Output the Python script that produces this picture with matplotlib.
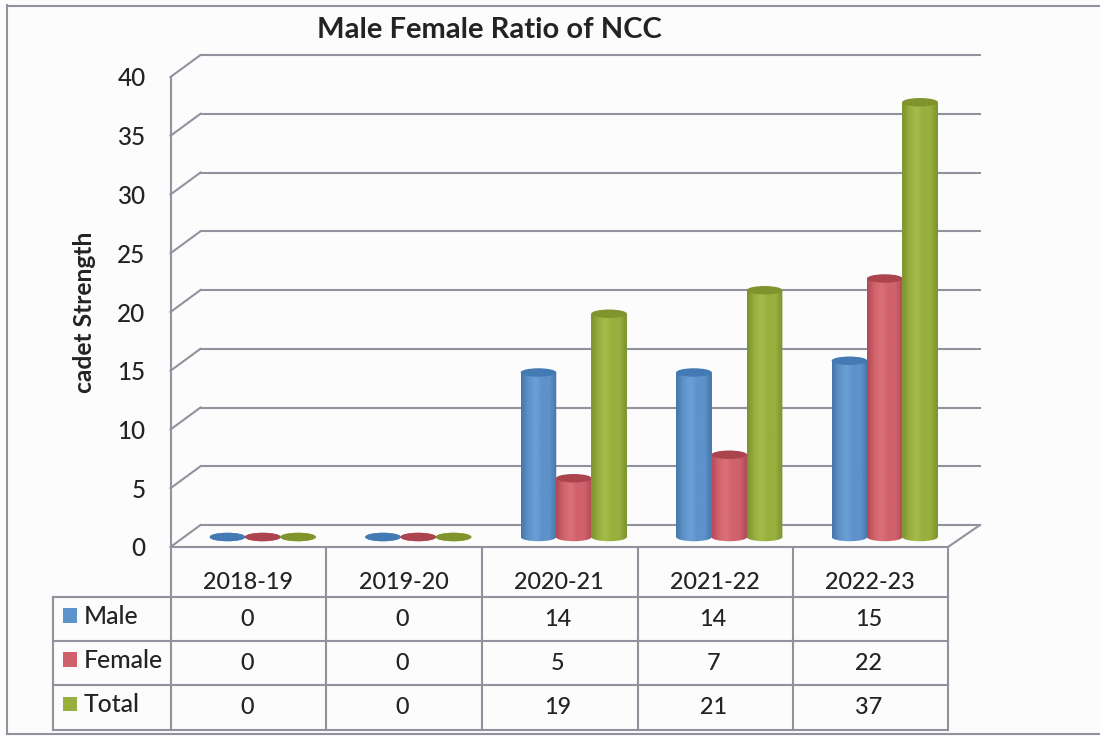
import matplotlib
matplotlib.use("Agg")
import matplotlib.pyplot as plt
import numpy as np
from matplotlib.colors import LinearSegmentedColormap
from matplotlib.patches import Ellipse, Rectangle
from matplotlib.path import Path
from matplotlib.transforms import offset_copy

plt.rcParams['font.family'] = ['Lato', 'DejaVu Sans']

years = ['2018-19', '2019-20', '2020-21', '2021-22', '2022-23']
male = [0, 0, 14, 14, 15]
female = [0, 0, 5, 7, 22]
total = [0, 0, 19, 21, 37]
series_names = ['Male', 'Female', 'Total']
yticks = [0, 5, 10, 15, 20, 25, 30, 35, 40]

W, H = 1100, 736
LINE = '#92929f'
TEXT = '#232326'
# dark edge, mid, highlight, top cap
shades = [('#4676aa', '#5e92ca', '#6ba0d6', '#437aB4'),
          ('#b04a56', '#d0626b', '#da7079', '#ac4450'),
          ('#7b9130', '#98af3e', '#a5bb4a', '#7f942c')]

fig = plt.figure(figsize=(W / 100, H / 100), dpi=100, facecolor='#fcfcfd')

# full size axes in pixels for the frame and the data table
page = fig.add_axes([0, 0, 1, 1], zorder=0)
page.set_xlim(0, W)
page.set_ylim(H, 0)
page.axis('off')

# plot axes, its box is the front of the 3d floor and wall
left, right, top, bottom = 170.5, 948, 77, 547
ax = fig.add_axes([left / W, 1 - bottom / H, (right - left) / W, (bottom - top) / H], zorder=1)
ax.patch.set_alpha(0)

back = offset_copy(ax.transData, fig=fig, x=30, y=22, units='dots')
cyl = offset_copy(ax.transData, fig=fig, x=14.5, y=10, units='dots')

# back wall gridlines and the slanted lines on the side wall
for t in yticks:
    ax.plot([0, 5.015], [t, t], color=LINE, lw=1.5, transform=back, clip_on=False, zorder=1)
    page.plot([left, left + 30], [bottom - t * 11.75, bottom - t * 11.75 - 22], color=LINE, lw=1.5)
page.plot([right, right + 32], [bottom, bottom - 22], color=LINE, lw=1.5)

bar_w = 0.229
px = 35.3 / (right - left) * 5
x = np.arange(5) + 0.5
cap_h = 0.72

for i, vals in enumerate([male, female, total]):
    dark, mid, light, cap = shades[i]
    cmap = LinearSegmentedColormap.from_list('c', [dark, mid, light, mid, mid, dark])
    grad = np.linspace(0, 1, 64).reshape(1, -1)
    xs = x + (i - 1) * px
    z = 3 + i
    ax.bar(xs, vals, bar_w, color=mid, transform=cyl, clip_on=False, zorder=z)
    for xc, v in zip(xs, vals):
        rect = Rectangle((xc - bar_w / 2, 0), bar_w, v)
        body = rect.get_path().transformed(rect.get_patch_transform())
        base = Ellipse((xc, 0), bar_w, cap_h)
        base_path = base.get_path().transformed(base.get_patch_transform())
        im = ax.imshow(grad, cmap=cmap, aspect='auto', transform=cyl, zorder=z,
                       extent=[xc - bar_w / 2, xc + bar_w / 2, -1, max(v, 0) + 1])
        im.set_clip_path(Path.make_compound_path(body, base_path), cyl)
        ax.add_patch(Ellipse((xc, v), bar_w, cap_h, color=cap, lw=0, transform=cyl, zorder=z))

ax.set_xlim(0, 5)
ax.set_ylim(0, 40)
ax.set_xticks(x)
ax.set_xticklabels(years, fontsize=16.8, color=TEXT, fontweight='medium')
ax.set_yticks(yticks)
ax.set_yticklabels([str(t) for t in yticks], fontsize=17.5, color=TEXT, fontweight='medium')
ax.tick_params(axis='x', length=0, pad=18)
ax.tick_params(axis='y', length=0, pad=18)
for s in ['top', 'right']:
    ax.spines[s].set_visible(False)
for s in ['left', 'bottom']:
    ax.spines[s].set_color(LINE)
    ax.spines[s].set_linewidth(1.5)

# data table under the plot
col_x = [left, 326, 482, 638, 793, right]
row_y = [597, 641, 685, 730]
for cx in col_x:
    page.plot([cx, cx], [bottom, row_y[-1]], color=LINE, lw=1.5)
page.plot([53, 53], [row_y[0], row_y[-1]], color=LINE, lw=1.5)
for ry in row_y:
    page.plot([53, right], [ry, ry], color=LINE, lw=1.5)

for r, (name, vals) in enumerate(zip(series_names, [male, female, total])):
    yc = (row_y[r] + row_y[r + 1]) / 2
    page.add_patch(Rectangle((62.5, yc - 11), 14.5, 14.5, color=shades[r][1], lw=0))
    page.text(84, yc - 3, name, fontsize=17.8, color=TEXT, va='center', ha='left',
              fontweight='medium')
    for c, v in enumerate(vals):
        page.text(x[c] * (right - left) / 5 + left - 1.5, yc, str(v), fontsize=16.8,
                  color=TEXT, va='center', ha='center', fontweight='medium')

# outer border
page.plot([7, 7], [5, 734], color=LINE, lw=1.5)
page.plot([7, W], [5.5, 5.5], color=LINE, lw=1.5)
page.plot([7, W], [734, 734], color=LINE, lw=1.5)

page.text(489.5, 30, 'Male Female Ratio of NCC', fontsize=21, fontweight='bold',
          color=TEXT, va='center', ha='center')
page.text(84, 312, 'cadet Strength', fontsize=17.7, fontweight='bold', color=TEXT,
          rotation=90, va='center', ha='center')

fig.savefig('out.png', dpi=100, facecolor=fig.get_facecolor())
